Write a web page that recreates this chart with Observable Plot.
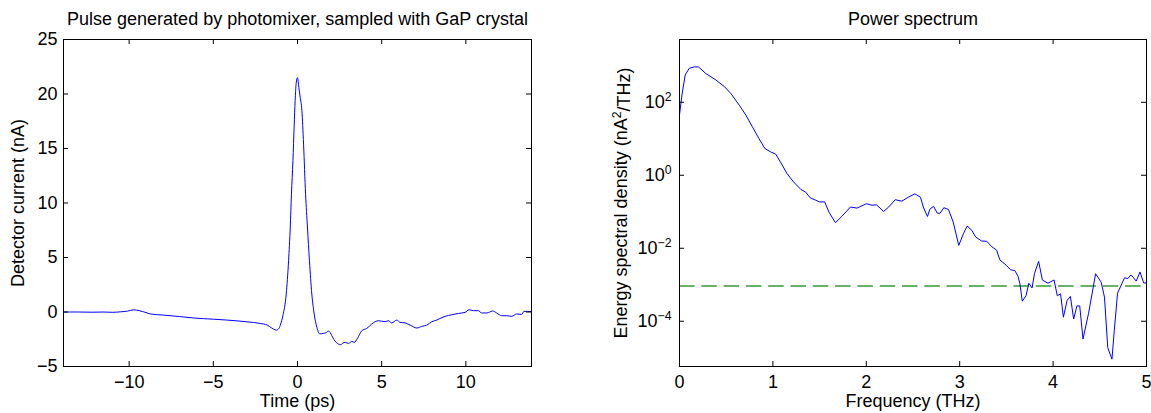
<!DOCTYPE html>
<html>
<head>
<meta charset="utf-8">
<script src="https://cdn.jsdelivr.net/npm/d3@7"></script>
<script src="https://cdn.jsdelivr.net/npm/@observablehq/plot@0.6"></script>
<style>
  body { margin: 0; background: #fff; }
  #wrap { display: flex; width: 1151px; height: 413px; background: #fff; }
</style>
</head>
<body>
<div id="wrap"></div>
<script>
// ---- Left panel: pulse in time domain ----
const time = [-13.9, -13.0, -12.2, -11.5, -11.0, -10.5, -10.1, -9.73, -9.4, -9.0, -8.74, -8.0, -7.0, -6.17, -5.0, -4.19, -3.0, -2.21, -1.8, -1.55, -1.42, -1.26, -1.1, -1.0, -0.87, -0.67, -0.53, -0.43, -0.36, -0.27, -0.2, -0.14, -0.08, 0, 0.08, 0.16, 0.26, 0.36, 0.48, 0.59, 0.71, 0.85, 0.99, 1.15, 1.31, 1.54, 1.7, 1.84, 1.95, 2.04, 2.3, 2.57, 2.7, 2.83, 3.03, 3.23, 3.37, 3.56, 3.82, 4.12, 4.41, 4.81, 5.2, 5.4, 5.6, 5.9, 6.09, 6.39, 6.69, 7.09, 7.38, 7.68, 7.98, 8.27, 8.47, 8.77, 9.16, 9.56, 9.95, 10.19, 10.45, 10.74, 10.94, 11.24, 11.6, 11.83, 12.13, 12.43, 12.72, 13.02, 13.32, 13.45, 13.9];
const current = [0.0, 0.0, -0.02, 0.0, -0.03, 0.02, 0.08, 0.2, 0.12, -0.05, -0.18, -0.28, -0.42, -0.55, -0.66, -0.74, -0.9, -1.05, -1.2, -1.45, -1.57, -1.66, -1.5, -1.1, -0.34, 1.65, 4.7, 7.8, 10.8, 13.9, 17.0, 19.4, 20.96, 21.5, 20.6, 19.7, 18.5, 15.4, 10.8, 7.8, 4.7, 1.65, -0.18, -1.4, -2.0, -1.96, -1.9, -1.75, -1.9, -2.18, -2.79, -3.0, -2.85, -2.79, -2.88, -2.7, -2.79, -2.42, -1.72, -1.5, -1.1, -0.8, -0.89, -0.8, -1.0, -0.74, -0.95, -1.0, -1.2, -1.47, -1.32, -1.2, -0.89, -0.74, -0.59, -0.4, -0.25, -0.13, -0.04, 0.21, 0.12, 0.12, -0.09, -0.09, 0.09, -0.09, -0.34, -0.34, -0.4, -0.18, -0.22, 0.06, 0.03];
const timeTicks = [-10, -5, 0, 5, 10];
const currentTicks = [-5, 0, 5, 10, 15, 20, 25];

// ---- Right panel: power spectrum ----
const freq = [0, 0.026, 0.061, 0.104, 0.157, 0.204, 0.28, 0.39, 0.48, 0.55, 0.64, 0.71, 0.78, 0.85, 0.915, 0.975, 1.03, 1.08, 1.15, 1.22, 1.3, 1.35, 1.4, 1.455, 1.5, 1.555, 1.6, 1.67, 1.74, 1.83, 1.9, 2.0, 2.06, 2.11, 2.185, 2.24, 2.31, 2.38, 2.45, 2.52, 2.58, 2.61, 2.655, 2.68, 2.72, 2.76, 2.79, 2.83, 2.88, 2.93, 2.99, 3.04, 3.08, 3.13, 3.17, 3.235, 3.29, 3.34, 3.395, 3.43, 3.5, 3.545, 3.59, 3.625, 3.645, 3.67, 3.71, 3.74, 3.775, 3.8, 3.845, 3.885, 3.945, 4.01, 4.045, 4.08, 4.11, 4.15, 4.185, 4.22, 4.255, 4.285, 4.32, 4.38, 4.455, 4.515, 4.55, 4.585, 4.63, 4.655, 4.69, 4.765, 4.8, 4.835, 4.89, 4.93, 4.97, 5.0];
const esd = [44.7, 158, 562, 851, 933, 933, 617, 407, 269, 174, 83.2, 44.7, 21.4, 10.2, 5.37, 4.37, 3.8, 2.34, 1.12, 0.661, 0.407, 0.347, 0.24, 0.209, 0.186, 0.186, 0.0977, 0.0501, 0.0759, 0.135, 0.126, 0.166, 0.151, 0.155, 0.102, 0.135, 0.214, 0.195, 0.251, 0.309, 0.251, 0.135, 0.0741, 0.117, 0.141, 0.0912, 0.0912, 0.129, 0.115, 0.0525, 0.012, 0.0251, 0.0407, 0.0309, 0.0204, 0.0158, 0.0155, 0.0112, 0.00891, 0.00479, 0.00339, 0.00257, 0.00245, 0.0017, 0.00105, 0.000355, 0.000501, 0.0011, 0.000813, 0.002, 0.00437, 0.00135, 0.0011, 0.00135, 0.000501, 0.000562, 0.000129, 0.000372, 0.000479, 0.000115, 0.000263, 0.000263, 3.24e-5, 0.000166, 0.002, 0.00117, 0.000457, 1.91e-5, 9.12e-6, 5.5e-5, 0.000589, 0.00155, 0.00148, 0.00186, 0.00126, 0.00224, 0.00112, 0.00112];
const noiseFloor = [9.2e-4];
const freqTicks = [0, 1, 2, 3, 4, 5];
const esdTicks = [1e-4, 1e-2, 1, 1e2];

const titleLeft = "Pulse generated by photomixer, sampled with GaP crystal";
const titleRight = "Power spectrum";
const xLabelLeft = "Time (ps)";
const yLabelLeft = "Detector current (nA)";
const xLabelRight = "Frequency (THz)";
const yLabelRight = "Energy spectral density (nA^2/THz)";

const pulse = time.map((t, i) => ({t, v: current[i]}));
const spectrum = freq.map((f, i) => ({f, e: esd[i]}));

const font = "'Liberation Sans', Arial, Helvetica, sans-serif";
const H = 413, MT = 39, MB = 47, TL = 5;
const FH = H - MT - MB;

function boxTicks(xt, yt, fw) {
  return [
    Plot.tickX(xt, {x: d => d, insetTop: FH - TL, stroke: "#000", strokeWidth: 1}),
    Plot.tickX(xt, {x: d => d, insetBottom: FH - TL, stroke: "#000", strokeWidth: 1}),
    Plot.tickY(yt, {y: d => d, insetLeft: fw - TL, stroke: "#000", strokeWidth: 1}),
    Plot.tickY(yt, {y: d => d, insetRight: fw - TL, stroke: "#000", strokeWidth: 1})
  ];
}

// Left
const W1 = 575, ML1 = 63, MR1 = 44;
const left = Plot.plot({
  width: W1, height: H, marginLeft: ML1, marginRight: MR1, marginTop: MT, marginBottom: MB,
  style: {fontFamily: font, fontSize: "18px", color: "#000", background: "#fff", overflow: "visible"},
  x: {domain: [-13.9, 13.9], ticks: timeTicks, tickSize: 0, tickPadding: 9, label: null},
  y: {domain: [-5, 25], ticks: currentTicks, tickSize: 0, tickPadding: 6, label: null},
  marks: [
    Plot.line(pulse, {x: "t", y: "v", stroke: "#0000ff", strokeWidth: 1, curve: "monotone-x"}),
    ...boxTicks(timeTicks, currentTicks, W1 - ML1 - MR1),
    Plot.frame({stroke: "#000", strokeWidth: 1}),
    Plot.text([titleLeft], {frameAnchor: "top", dy: -20, lineAnchor: "middle", textAnchor: "middle", fontSize: 18}),
    Plot.text([xLabelLeft], {frameAnchor: "bottom", dy: 35, lineAnchor: "middle", textAnchor: "middle", fontSize: 18}),
    Plot.text([yLabelLeft], {frameAnchor: "left", dx: -45, rotate: -90, lineAnchor: "middle", textAnchor: "middle", fontSize: 18})
  ]
});

// Right
const W2 = 576, ML2 = 104, MR2 = 5;
const right = Plot.plot({
  width: W2, height: H, marginLeft: ML2, marginRight: MR2, marginTop: MT, marginBottom: MB,
  style: {fontFamily: font, fontSize: "18px", color: "#000", background: "#fff", overflow: "visible"},
  x: {domain: [0, 5], ticks: freqTicks, tickFormat: d => String(d), tickSize: 0, tickPadding: 9, label: null},
  y: {type: "log", domain: [Math.pow(10, -5.24), Math.pow(10, 3.72)], ticks: esdTicks,
      tickFormat: d => "10^" + Math.round(Math.log10(d)), tickSize: 0, tickPadding: 8, label: null},
  marks: [
    Plot.ruleY(noiseFloor, {stroke: "#66b366", strokeWidth: 2, strokeDasharray: "15.5,6.8"}),
    Plot.line(spectrum, {x: "f", y: "e", stroke: "#0000ff", strokeWidth: 1}),
    ...boxTicks(freqTicks, esdTicks, W2 - ML2 - MR2),
    Plot.frame({stroke: "#000", strokeWidth: 1}),
    Plot.text([titleRight], {frameAnchor: "top", dy: -20, lineAnchor: "middle", textAnchor: "middle", fontSize: 18}),
    Plot.text([xLabelRight], {frameAnchor: "bottom", dy: 35, lineAnchor: "middle", textAnchor: "middle", fontSize: 18}),
    Plot.text([yLabelRight], {frameAnchor: "left", dx: -58, rotate: -90, lineAnchor: "middle", textAnchor: "middle", fontSize: 18})
  ]
});

// Render "^" exponents (tick labels and axis label) as superscripts
d3.select(right).selectAll("text").each(function() {
  const s = this.textContent;
  if (this.children.length === 0 && s.includes("^")) {
    const m = s.match(/^(.*?)\^(-?\d+)(.*)$/);
    if (!m) return;
    const t = d3.select(this);
    t.text(m[1]);
    t.append("tspan").attr("dy", "-0.55em").attr("font-size", "0.68em").text(m[2].replace("-", "\u2212"));
    if (m[3]) t.append("tspan").attr("dy", "0.55em").text(m[3]);
  }
});

document.getElementById("wrap").append(left, right);
</script>
</body>
</html>
